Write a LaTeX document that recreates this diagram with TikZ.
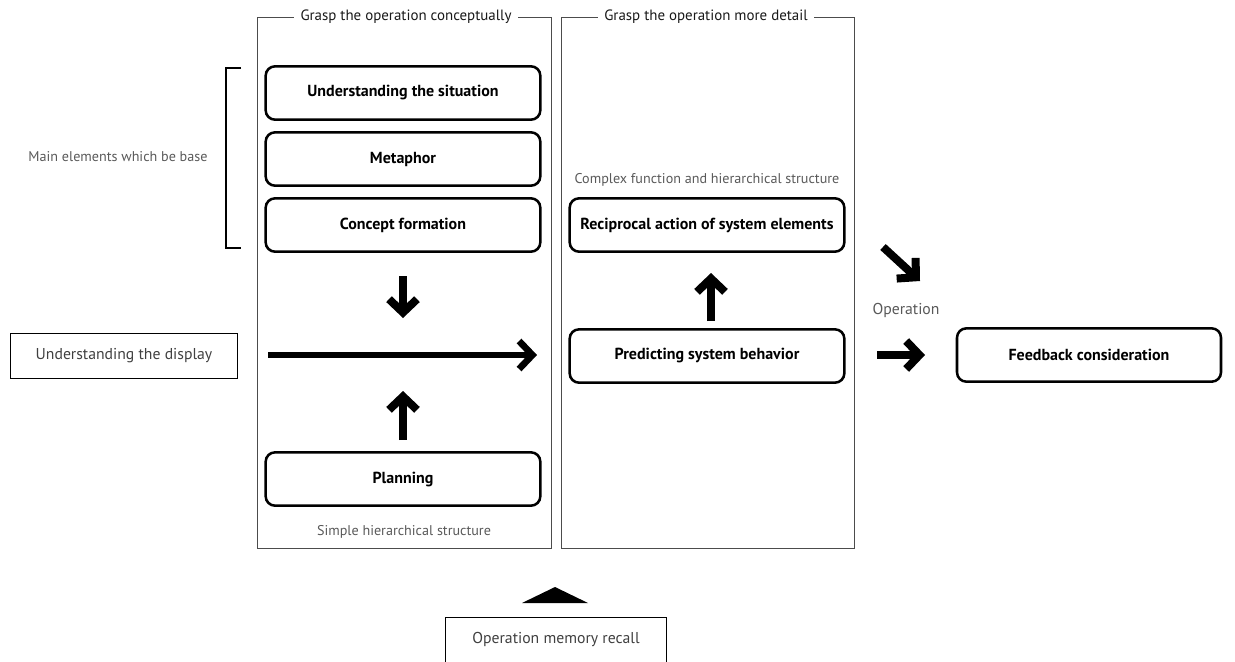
\documentclass[tikz,border=0pt]{standalone}
\usepackage{fontspec}
\setmainfont{PT Sans}
\usetikzlibrary{arrows.meta}

\begin{document}
\begin{tikzpicture}[x=0.75pt,y=-0.75pt,
  stepbox/.style={draw, line width=1.9pt, rounded corners=7pt, minimum width=206pt, minimum height=40pt, font=\bfseries\fontsize{12}{14}\selectfont},
  plainbox/.style={draw, line width=0.7pt, minimum height=34pt, font=\fontsize{11.8}{13}\selectfont, text=black!75},
  note/.style={font=\fontsize{10.6}{12}\selectfont, text=black!65},
  frametitle/.style={fill=white, inner xsep=5pt, font=\fontsize{11.2}{13}\selectfont, text=black!90},
  frameline/.style={draw=black!70, line width=0.6pt},
  bigarrow/.style={line width=6pt, -{Straight Barb[length=10pt,width=21pt]}}]

\useasboundingbox (0,0) rectangle (1235,661);

% Frames
\draw[frameline] (257,17) rectangle (551,548);
\draw[frameline] (561,17) rectangle (854,548);
\node[frametitle] (concept title) at (406,17) {Grasp the operation conceptually};
\node[frametitle] (detail title) at (706,17) {Grasp the operation more detail};

% Left column
\node[stepbox] (situation) at (403,93) {Understanding the situation};
\node[stepbox] (metaphor) at (403,159) {Metaphor};
\node[stepbox] (formation) at (403,225) {Concept formation};
\node[stepbox] (planning) at (403,479) {Planning};
\node[note] (simple) at (404,532) {Simple hierarchical structure};

% Right column
\node[note] (complex) at (707,180) {Complex function and hierarchical structure};
\node[stepbox] (reciprocal) at (707,225) {Reciprocal action of system elements};
\node[stepbox] (predicting) at (707,356) {Predicting system behavior};

% Outside
\node[stepbox, minimum width=198pt] (feedback) at (1089,355) {Feedback consideration};
\node[plainbox, minimum width=170pt] (display) at (124,356) {Understanding the display};
\node[plainbox, minimum width=166pt] (recall) at (556,640) {Operation memory recall};
\node[note, font=\fontsize{11.8}{13}\selectfont] (operation) at (906,310) {Operation};
\node[note] (base) at (118,157) {Main elements which be base};

% Bracket
\draw[line width=0.8pt] (241,68) -- (226,68) -- (226,248) -- (241,248);

% Arrows
\coordinate (down top) at (403,276);
\coordinate (down end) at (403,318);
\coordinate (up start) at (403,440);
\coordinate (up end) at (403,391);
\coordinate (line start) at (268,355);
\coordinate (line end) at (537,355);
\coordinate (rise start) at (711,321);
\coordinate (rise end) at (711,273);
\coordinate (slant start) at (883,247);
\coordinate (slant end) at (920,281);
\coordinate (go start) at (877,355);
\coordinate (go end) at (925,355);

\draw[bigarrow] (down top) -- (down end);
\draw[bigarrow] (up start) -- (up end);
\draw[bigarrow, line width=5pt] (line start) -- (line end);
\draw[bigarrow] (rise start) -- (rise end);
\draw[bigarrow] (slant start) -- (slant end);
\draw[bigarrow] (go start) -- (go end);

% Recall marker
\fill (522,603) -- (555,587) -- (588,603) -- cycle;
\end{tikzpicture}
\end{document}
